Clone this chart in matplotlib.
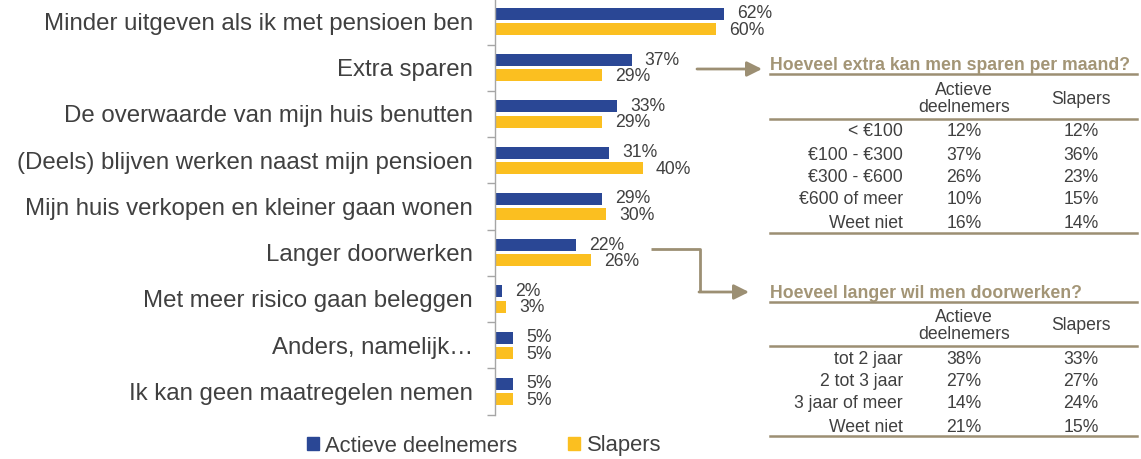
import matplotlib
matplotlib.use('Agg')
import matplotlib.pyplot as plt
import numpy as np
from matplotlib.patches import Patch

plt.rcParams['font.family'] = ['Liberation Sans', 'DejaVu Sans']

categories = ['Minder uitgeven als ik met pensioen ben', 'Extra sparen',
              'De overwaarde van mijn huis benutten',
              '(Deels) blijven werken naast mijn pensioen',
              'Mijn huis verkopen en kleiner gaan wonen', 'Langer doorwerken',
              'Met meer risico gaan beleggen', 'Anders, namelijk\u2026',
              'Ik kan geen maatregelen nemen']
actief = [62, 37, 33, 31, 29, 22, 2, 5, 5]
slapers = [60, 29, 29, 40, 30, 26, 3, 5, 5]

t1_title = 'Hoeveel extra kan men sparen per maand?'
t1_rows = ['< \u20ac100', '\u20ac100 - \u20ac300', '\u20ac300 - \u20ac600', '\u20ac600 of meer', 'Weet niet']
t1_actief = ['12%', '37%', '26%', '10%', '16%']
t1_slapers = ['12%', '36%', '23%', '15%', '14%']

t2_title = 'Hoeveel langer wil men doorwerken?'
t2_rows = ['tot 2 jaar', '2 tot 3 jaar', '3 jaar of meer', 'Weet niet']
t2_actief = ['38%', '27%', '14%', '21%']
t2_slapers = ['33%', '27%', '24%', '15%']

BLUE = '#2a4795'
YELLOW = '#fbbf20'
TXT = '#404040'
TAUPE = '#9c8f73'

W, H = 1141, 459
fig = plt.figure(figsize=(W / 100, H / 100), dpi=100)
fig.patch.set_facecolor('white')

# bar axes (pixel geometry)
ax = fig.add_axes([495 / W, 1 - 414.6 / H, 369 / W, 416.25 / H])
ax.patch.set_alpha(0)
y = np.arange(len(categories))
bh = 0.26
off = 0.165
ax.barh(y - off, actief, height=bh, color=BLUE, label='Actieve deelnemers')
ax.barh(y + off, slapers, height=bh, color=YELLOW, label='Slapers')
for i in range(len(categories)):
    ax.annotate(f'{actief[i]}%', (actief[i], y[i] - off), xytext=(9.5, 0),
                textcoords='offset points', va='center', ha='left',
                fontsize=12.7, color=TXT)
    ax.annotate(f'{slapers[i]}%', (slapers[i], y[i] + off), xytext=(9.5, -1),
                textcoords='offset points', va='center', ha='left',
                fontsize=12.7, color=TXT)
ax.set_xlim(0, 100)
ax.set_ylim(len(categories) - 0.5, -0.5)
ax.set_yticks(y)
ax.set_yticklabels(categories, fontsize=17.3, color=TXT)
ax.tick_params(axis='y', which='major', length=0, pad=16)
ax.set_yticks(np.arange(-0.5, len(categories), 1.0), minor=True)
ax.tick_params(axis='y', which='minor', length=6, color='#a6a6a6', width=1)
ax.set_xticks([])
for s in ['top', 'right', 'bottom']:
    ax.spines[s].set_visible(False)
ax.spines['left'].set_color('#a6a6a6')
ax.spines['left'].set_linewidth(1)

# overlay in pixel coordinates for arrows and tables
ov = fig.add_axes([0, 0, 1, 1])
ov.set_xlim(0, W)
ov.set_ylim(H, 0)
ov.axis('off')
ov.patch.set_alpha(0)

ov.annotate('', xy=(762, 69), xytext=(697, 69),
            arrowprops=dict(arrowstyle='-|>,head_length=0.9,head_width=0.45',
                            color=TAUPE, lw=2, shrinkA=0, shrinkB=0))
ov.plot([651, 700, 700], [249, 249, 292], color=TAUPE, lw=2, solid_capstyle='butt')
ov.annotate('', xy=(749, 292), xytext=(699, 292),
            arrowprops=dict(arrowstyle='-|>,head_length=0.9,head_width=0.45',
                            color=TAUPE, lw=2, shrinkA=0, shrinkB=0))


def draw_table(title, rows, a_vals, s_vals, ty, line1, hy, line2, ry, line3):
    ov.text(770, ty, title, fontsize=12.7, fontweight='bold', color='#a39576',
            ha='left', va='center')
    for ly in (line1, line2, line3):
        ov.plot([770, 1137], [ly, ly], color=TAUPE, lw=1.8)
    ov.text(964, hy, 'Actieve\ndeelnemers', fontsize=12.7, color=TXT,
            ha='center', va='center', linespacing=1.0)
    ov.text(1081, hy, 'Slapers', fontsize=12.7, color=TXT, ha='center', va='center')
    for k, r in enumerate(rows):
        yy = ry[k]
        ov.text(903, yy, r, fontsize=12.7, color=TXT, ha='right', va='center')
        ov.text(964, yy, a_vals[k], fontsize=12.7, color=TXT, ha='center', va='center')
        ov.text(1081, yy, s_vals[k], fontsize=12.7, color=TXT, ha='center', va='center')


draw_table(t1_title, t1_rows, t1_actief, t1_slapers, 66, 74, 99, 119,
           [132, 155, 177, 200, 223], 233)
draw_table(t2_title, t2_rows, t2_actief, t2_slapers, 293, 302, 326, 346,
           [360, 382, 404, 427], 436)

handles = [Patch(color=BLUE, label='Actieve deelnemers'),
           Patch(color=YELLOW, label='Slapers')]
fig.legend(handles=handles, loc='center', bbox_to_anchor=(484 / W, 1 - 446 / H),
           ncol=2, frameon=False, fontsize=15.8, handlelength=0.55, handleheight=0.55,
           handletextpad=0.3, columnspacing=2.3, labelcolor=TXT)

fig.savefig('out.png', dpi=100)
